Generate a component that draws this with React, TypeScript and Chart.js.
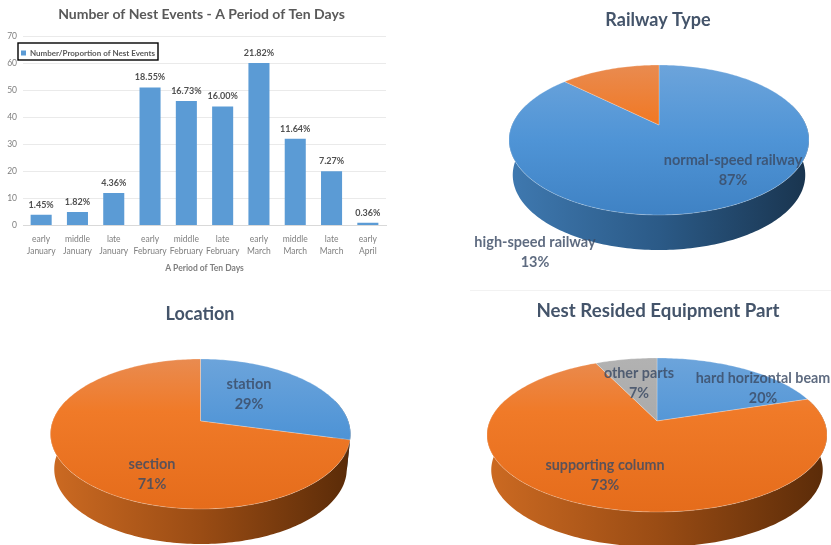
import React, { useEffect, useRef } from "react";
import { Chart, registerables } from "chart.js";

Chart.register(...registerables);

const periodLabels = [
  ["early", "January"], ["middle", "January"], ["late", "January"],
  ["early", "February"], ["middle", "February"], ["late", "February"],
  ["early", "March"], ["middle", "March"], ["late", "March"],
  ["early", "April"],
];
const nestEvents = [4, 5, 12, 51, 46, 44, 60, 32, 20, 1];
const nestShares = ["1.45%", "1.82%", "4.36%", "18.55%", "16.73%", "16.00%", "21.82%", "11.64%", "7.27%", "0.36%"];

const railwayLabels = ["normal-speed railway", "high-speed railway"];
const railwayValues = [87, 13];
const locationLabels = ["station", "section"];
const locationValues = [29, 71];
const partLabels = ["hard horizontal beam", "supporting column", "other parts"];
const partValues = [20, 73, 7];

const FONT = "Lato, 'Open Sans', sans-serif";
const BLUE = "#5B9BD5";
const ORANGE = "#ED7D31";
const GREY = "#A5A5A5";

type Shade = { top: [number, string][]; wall: [number, string][] };
const shades: Record<string, Shade> = {
  [BLUE]: {
    top: [[0, "#6CA4DB"], [0.5, "#4F94D6"], [1, "#3F82C4"]],
    wall: [[0, "#3F79B0"], [0.5, "#2B5A87"], [1, "#19344E"]],
  },
  [ORANGE]: {
    top: [[0, "#E98B50"], [0.35, "#F07A28"], [1, "#E56C1B"]],
    wall: [[0, "#CC6A22"], [0.5, "#9A4C14"], [1, "#5A2B08"]],
  },
  [GREY]: {
    top: [[0, "#B2B2B2"], [1, "#A0A0A0"]],
    wall: [[0, "#8A8A8A"], [1, "#4A4A4A"]],
  },
};

type Geometry = { cx: number; top: number; apex: number; bottom: number; rx: number; depth: number; inset: number };
type Place = { x: number; y: number };

function projector(g: Geometry) {
  const t = g.apex - g.top;
  const b = g.bottom - g.apex;
  const c = (t - b) / (t + b);
  const a = t * (1 - c);
  const d = g.rx * Math.sqrt(1 - c * c);
  return (angle: number) => {
    const u = Math.cos(angle);
    const v = Math.sin(angle);
    const w = 1 + c * v;
    return { x: g.cx + (d * u) / w, y: g.apex + (a * v) / w };
  };
}

function perspectivePie(geometry: Geometry, places: Place[], percents: string[], labelColor: string, fontSize: number) {
  const rim = projector(geometry);
  return {
    id: "perspectivePie",
    beforeDatasetsDraw(chart: any) {
      const ctx = chart.ctx;
      const meta = chart.getDatasetMeta(0);
      const colors = chart.data.datasets[0].backgroundColor as string[];
      const bottomRim = (a: number) => {
        const p = rim(a);
        return { x: geometry.cx + (p.x - geometry.cx) * geometry.inset, y: p.y + geometry.depth };
      };
      const sweep = (s: number, e: number) => {
        const n = Math.max(2, Math.ceil((e - s) / 0.02));
        return Array.from({ length: n + 1 }, (_, i) => s + ((e - s) * i) / n);
      };
      meta.data.forEach((arc: any, i: number) => {
        const shade = shades[colors[i]];
        const wall = ctx.createLinearGradient(geometry.cx - geometry.rx, 0, geometry.cx + geometry.rx, 0);
        shade.wall.forEach(([o, col]) => wall.addColorStop(o, col));
        const s = Math.max(arc.startAngle, -0.3);
        const e = Math.min(arc.endAngle, Math.PI + 0.3);
        if (e > s) {
          const angles = sweep(s, e);
          ctx.beginPath();
          angles.forEach((a, k) => {
            const p = rim(a);
            k ? ctx.lineTo(p.x, p.y) : ctx.moveTo(p.x, p.y);
          });
          angles.slice().reverse().forEach((a) => {
            const p = bottomRim(a);
            ctx.lineTo(p.x, p.y);
          });
          ctx.closePath();
          ctx.fillStyle = wall;
          ctx.fill();
        }
      });
      meta.data.forEach((arc: any, i: number) => {
        const shade = shades[colors[i]];
        const face = ctx.createLinearGradient(0, geometry.top, 0, geometry.bottom);
        shade.top.forEach(([o, col]) => face.addColorStop(o, col));
        ctx.beginPath();
        ctx.moveTo(geometry.cx, geometry.apex);
        sweep(arc.startAngle, arc.endAngle).forEach((a) => {
          const p = rim(a);
          ctx.lineTo(p.x, p.y);
        });
        ctx.closePath();
        ctx.fillStyle = face;
        ctx.fill();
        ctx.strokeStyle = "rgba(255,255,255,0.3)";
        ctx.lineWidth = 0.8;
        ctx.stroke();
      });
      return false;
    },
    afterDraw(chart: any) {
      const ctx = chart.ctx;
      ctx.save();
      ctx.fillStyle = labelColor;
      ctx.font = `bold ${fontSize}px ${FONT}`;
      ctx.textAlign = "center";
      ctx.textBaseline = "middle";
      chart.data.labels.forEach((label: string, i: number) => {
        ctx.fillText(label, places[i].x, places[i].y);
        ctx.fillText(percents[i], places[i].x, places[i].y + 20);
      });
      ctx.restore();
    },
  };
}

function pieConfig(labels: string[], values: number[], colors: string[], title: string, titleTop: number, titleSize: number, plugin: any) {
  return {
    type: "pie",
    data: { labels, datasets: [{ data: values, backgroundColor: colors, borderWidth: 0 }] },
    options: {
      responsive: false,
      animation: false,
      plugins: {
        legend: { display: false },
        tooltip: { enabled: false },
        title: {
          display: true,
          text: title,
          color: "#44546A",
          font: { family: FONT, size: titleSize, weight: "bold" },
          padding: { top: titleTop, bottom: 4 },
        },
      },
    },
    plugins: [plugin],
  };
}

const barPlugin = {
  id: "barExtras",
  beforeLayout(chart: any) {
    const legend = chart.legend;
    legend._layers = () => [{ z: 1, draw: (area: any) => legend.draw(area) }];
  },
  afterLayout(chart: any) {
    chart.legend.left = 17;
    chart.legend.top = 45;
    chart.titleBlock.left = 17;
  },
  beforeDatasetsDraw(chart: any) {
    const ctx = chart.ctx;
    ctx.save();
    ctx.fillStyle = "#ffffff";
    ctx.strokeStyle = "#000000";
    ctx.lineWidth = 1.4;
    ctx.fillRect(18, 43, 140, 17);
    ctx.strokeRect(18, 43, 140, 17);
    ctx.restore();
  },
  afterDatasetsDraw(chart: any) {
    const ctx = chart.ctx;
    ctx.save();
    ctx.fillStyle = "#505050";
    ctx.font = `bold 9px ${FONT}`;
    ctx.textAlign = "center";
    ctx.textBaseline = "middle";
    chart.getDatasetMeta(0).data.forEach((bar: any, i: number) => {
      ctx.fillText(nestShares[i], bar.x, bar.y - 10);
    });
    ctx.restore();
  },
};

function useChart(config: () => any) {
  const ref = useRef<HTMLCanvasElement>(null);
  useEffect(() => {
    const chart = new Chart(ref.current as HTMLCanvasElement, config());
    return () => chart.destroy();
  }, []);
  return ref;
}

const canvasStyle = (left: number, top: number): React.CSSProperties => ({
  position: "absolute",
  left,
  top,
  filter: "blur(0.5px)",
});

export default function App() {
  const barRef = useChart(() => ({
    type: "bar",
    data: {
      labels: periodLabels,
      datasets: [
        {
          label: "Number/Proportion of Nest Events",
          data: nestEvents,
          backgroundColor: BLUE,
          categoryPercentage: 0.58,
          barPercentage: 1,
        },
      ],
    },
    options: {
      responsive: false,
      animation: false,
      layout: { padding: { left: 0, right: 14, top: 0, bottom: 0 } },
      plugins: {
        tooltip: { enabled: false },
        title: {
          display: true,
          text: "Number of Nest Events - A Period of Ten Days",
          color: "#595959",
          font: { family: FONT, size: 14, weight: "bold" },
          padding: { top: 6, bottom: 13.2 },
        },
        legend: {
          position: "chartArea",
          align: "start",
          labels: {
            color: "#595959",
            boxWidth: 5,
            boxHeight: 5,
            padding: 4,
            font: { family: FONT, size: 8, weight: "bold" },
          },
        },
      },
      scales: {
        x: {
          grid: { display: false },
          border: { color: "#D9D9D9" },
          ticks: { color: "#7F7F7F", font: { family: FONT, size: 8.5, lineHeight: 1.4 }, maxRotation: 0, autoSkip: false, padding: 0 },
          title: {
            display: true,
            text: "A Period of Ten Days",
            color: "#7F7F7F",
            font: { family: FONT, size: 8.5, weight: "bold" },
            padding: { top: 3, bottom: 0 },
          },
          afterFit: (s: any) => { s.height = 47.5; },
        },
        y: {
          min: 0,
          max: 70,
          grid: { color: "#EAEAEA", drawTicks: false },
          border: { display: false },
          ticks: { stepSize: 10, color: "#7F7F7F", font: { family: FONT, size: 8.5 }, padding: 6 },
          afterFit: (s: any) => { s.width = 23; },
        },
      },
    },
    plugins: [barPlugin],
  }));

  const railRef = useChart(() =>
    pieConfig(
      railwayLabels, railwayValues, [BLUE, ORANGE], "Railway Type", 9, 18,
      perspectivePie(
        { cx: 189, top: 65, apex: 125, bottom: 215, rx: 150, depth: 35, inset: 0.975 },
        [{ x: 263, y: 160 }, { x: 65, y: 242 }], ["87%", "13%"], "rgba(58,74,100,0.82)", 14.5
      )
    )
  );
  const locRef = useChart(() =>
    pieConfig(
      locationLabels, locationValues, [BLUE, ORANGE], "Location", 13, 18,
      perspectivePie(
        { cx: 200.5, top: 69, apex: 131, bottom: 219, rx: 150, depth: 35, inset: 0.975 },
        [{ x: 249, y: 94 }, { x: 152, y: 174 }], ["29%", "71%"], "rgba(58,74,100,0.82)", 14.5
      )
    )
  );
  const partRef = useChart(() =>
    pieConfig(
      partLabels, partValues, [BLUE, ORANGE, GREY], "Nest Resided Equipment Part", 10, 18.7,
      perspectivePie(
        { cx: 187, top: 68, apex: 131, bottom: 222, rx: 170, depth: 35, inset: 0.975 },
        [{ x: 293, y: 88 }, { x: 135, y: 175 }, { x: 169, y: 83 }], ["20%", "73%", "7%"], "rgba(58,74,100,0.82)", 14.3
      )
    )
  );

  return (
    <div style={{ position: "fixed", left: 0, top: 0, width: 831, height: 545, overflow: "hidden", background: "#fff" }}>
      <canvas ref={barRef} width={400} height={273} style={canvasStyle(0, 0)} />
      <canvas ref={railRef} width={376} height={285} style={canvasStyle(470, 0)} />
      <canvas ref={locRef} width={400} height={255} style={canvasStyle(0, 290)} />
      <canvas ref={partRef} width={376} height={255} style={canvasStyle(470, 290)} />
      <div style={{ position: "absolute", left: 470, top: 290, width: 361, height: 1, background: "#F2F2F2" }} />
    </div>
  );
}
